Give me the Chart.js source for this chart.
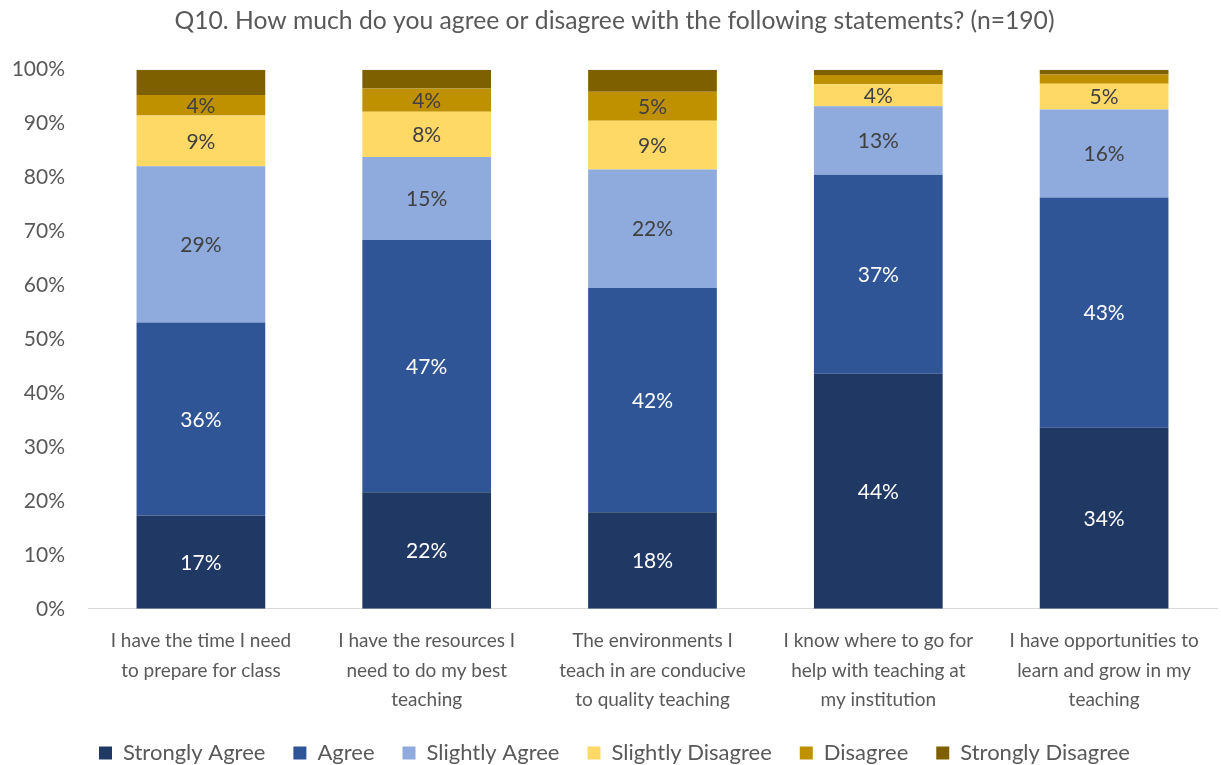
<!DOCTYPE html>
<html>
<head>
<meta charset="utf-8">
<script src="https://cdn.jsdelivr.net/npm/chart.js@4/dist/chart.umd.min.js"></script>
<style>
  body { margin: 0; background: #fff; }
  #wrap { width: 1221px; height: 765px; }
</style>
</head>
<body>
<div id="wrap"><canvas id="myChart"></canvas></div>
<script>
// statements (x axis tick labels, one line per entry)
const categories = [
    ['I have the time I need', 'to prepare for class'],
    ['I have the resources I', 'need to do my best', 'teaching'],
    ['The environments I', 'teach in are conducive', 'to quality teaching'],
    ['I know where to go for', 'help with teaching at', 'my institution'],
    ['I have opportunities to', 'learn and grow in my', 'teaching']
];

// percent of respondents
const stronglyAgree    = [17.3, 21.6, 17.9, 43.6, 33.6];
const agree            = [35.8, 46.8, 41.6, 36.9, 42.7];
const slightlyAgree    = [29.0, 15.4, 22.0, 12.7, 16.3];
const slightlyDisagree = [9.4, 8.4, 9.0, 4.1, 4.8];
const disagree         = [3.8, 4.3, 5.4, 1.7, 1.7];
const stronglyDisagree = [4.7, 3.5, 4.1, 1.0, 0.9];

const yTicks = [0, 10, 20, 30, 40, 50, 60, 70, 80, 90, 100];

const FONT = 'Lato, "Open Sans", sans-serif';
const GREY = '#595959';

// draws the % inside each segment
const valueLabels = {
    id: 'valueLabels',
    afterDatasetsDraw(chart) {
        const ctx = chart.ctx;
        ctx.save();
        ctx.font = '21px ' + FONT;
        ctx.textAlign = 'center';
        ctx.textBaseline = 'middle';
        chart.data.datasets.forEach((ds, i) => {
            if (ds.label === 'Strongly Disagree') return;
            const meta = chart.getDatasetMeta(i);
            meta.data.forEach((bar, j) => {
                const v = ds.data[j];
                if (v < 3) return;
                const c = bar.getCenterPoint();
                ctx.fillStyle = i < 2 ? '#ffffff' : '#404040';
                ctx.fillText(Math.round(v) + '%', c.x, c.y + 1);
            });
        });
        ctx.restore();
    }
};

function series(label, data, color) {
    return {
        label: label,
        data: data,
        backgroundColor: color,
        borderWidth: 0,
        barPercentage: 0.57,
        categoryPercentage: 1.0
    };
}

const ctx = document.getElementById('myChart').getContext('2d');

var graphData = {
    type: 'bar',
    data: {
        labels: categories,
        datasets: [
            series('Strongly Agree', stronglyAgree, '#203864'),
            series('Agree', agree, '#2f5597'),
            series('Slightly Agree', slightlyAgree, '#8faadc'),
            series('Slightly Disagree', slightlyDisagree, '#ffd966'),
            series('Disagree', disagree, '#bf9000'),
            series('Strongly Disagree', stronglyDisagree, '#7f6000')
        ]
    },
    options: {
        responsive: true,
        maintainAspectRatio: false,
        animation: false,
        layout: { padding: { left: 12, right: 4, top: 0, bottom: -9 } },
        plugins: {
            title: {
                display: true,
                text: 'Q10. How much do you agree or disagree with the following statements? (n=190)',
                color: GREY,
                font: { family: FONT, size: 24.7, weight: 'normal' },
                padding: { top: 6, bottom: 34 }
            },
            legend: {
                position: 'bottom',
                labels: {
                    color: GREY,
                    font: { family: FONT, size: 22 },
                    boxWidth: 13,
                    boxHeight: 13,
                    padding: 28
                }
            },
            tooltip: { enabled: false }
        },
        scales: {
            x: {
                stacked: true,
                grid: { display: false, drawTicks: false },
                border: { color: '#d9d9d9', width: 1 },
                ticks: {
                    color: GREY,
                    font: { family: FONT, size: 19, lineHeight: 1.53 },
                    maxRotation: 0,
                    autoSkip: false,
                    padding: 18
                },
                // labels sit closer to the legend than chart.js would put them
                afterFit: (scale) => {
                    scale.height -= 18;
                }
            },
            y: {
                stacked: true,
                min: 0,
                max: 100,
                afterBuildTicks: (axis) => { axis.ticks = yTicks.map(v => ({ value: v })); },
                afterFit: (scale) => { scale.width = 76; },
                grid: { display: false, drawTicks: false },
                border: { display: false },
                ticks: {
                    color: GREY,
                    font: { family: FONT, size: 21 },
                    padding: 23,
                    callback: (v) => v + '%'
                }
            }
        }
    },
    plugins: [valueLabels]
};

const myChart = new Chart(ctx, graphData);
</script>
</body>
</html>
